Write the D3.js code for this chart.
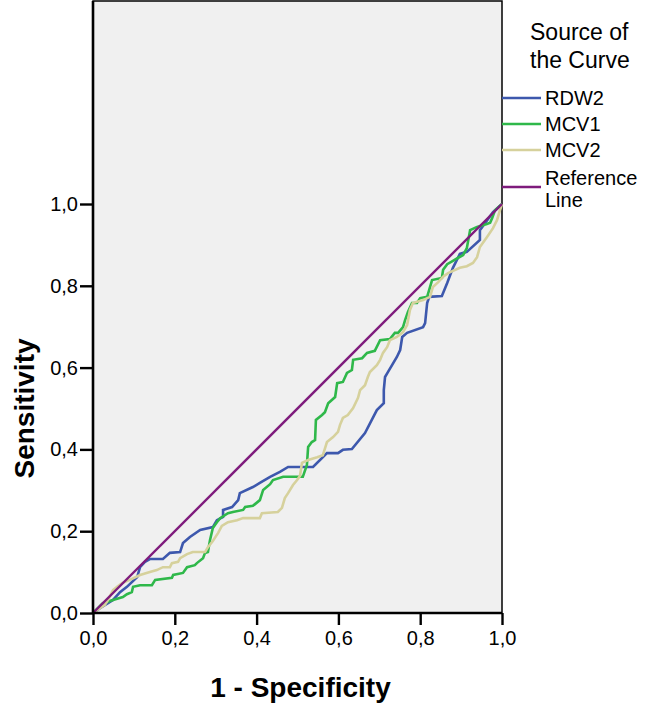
<!DOCTYPE html>
<html>
<head>
<meta charset="utf-8">
<script src="https://cdn.jsdelivr.net/npm/d3@7"></script>
<style>
  body { margin: 0; background: #fff; }
  text { font-family: "Liberation Sans", Arial, sans-serif; fill: #000; }
  .tick-label { font-size: 20px; }
  .axis-label { font-size: 28px; font-weight: bold; }
  .legend-title { font-size: 23px; }
  .legend-text { font-size: 20px; }
</style>
</head>
<body>
<div id="roc"></div>
<script>
// 1: DATA, [1 - specificity, sensitivity]
const seriesNames = ["RDW2", "MCV1", "MCV2"];
const seriesColors = ["#3d58ad", "#2fb84a", "#d6d19c"];
const refName = ["Reference", "Line"];
const refColor = "#7e1b7c";
const ticks = [0, 0.2, 0.4, 0.6, 0.8, 1.0];

const rdw2 = [
  [0,0],[0.017,0.012],[0.049,0.032],[0.066,0.051],[0.083,0.064],[0.108,0.088],
  [0.115,0.112],[0.127,0.125],[0.139,0.132],[0.171,0.132],[0.188,0.147],[0.213,0.149],
  [0.220,0.171],[0.237,0.186],[0.262,0.203],[0.293,0.210],[0.303,0.227],[0.318,0.235],
  [0.318,0.252],[0.340,0.259],[0.355,0.276],[0.359,0.293],[0.391,0.308],[0.408,0.318],
  [0.433,0.333],[0.457,0.345],[0.477,0.357],[0.538,0.357],[0.572,0.391],[0.599,0.391],
  [0.611,0.399],[0.633,0.401],[0.665,0.440],[0.694,0.496],[0.711,0.513],[0.711,0.545],
  [0.714,0.577],[0.721,0.589],[0.743,0.626],[0.751,0.643],[0.756,0.675],[0.768,0.685],
  [0.807,0.699],[0.812,0.709],[0.817,0.758],[0.822,0.773],[0.853,0.775],[0.866,0.807],
  [0.880,0.844],[0.897,0.878],[0.914,0.883],[0.946,0.912],[0.946,0.936],[0.978,0.980],
  [1,1]
];
const mcv1 = [
  [0,0],[0.024,0.024],[0.049,0.032],[0.073,0.039],[0.083,0.046],[0.095,0.051],
  [0.098,0.064],[0.115,0.068],[0.144,0.068],[0.152,0.081],[0.193,0.086],[0.196,0.093],
  [0.220,0.098],[0.230,0.112],[0.249,0.117],[0.254,0.122],[0.269,0.134],[0.274,0.147],
  [0.281,0.149],[0.286,0.178],[0.293,0.208],[0.303,0.222],[0.311,0.232],[0.330,0.244],
  [0.342,0.247],[0.367,0.252],[0.372,0.259],[0.391,0.262],[0.408,0.276],[0.416,0.301],
  [0.433,0.315],[0.440,0.325],[0.465,0.333],[0.513,0.333],[0.523,0.362],[0.526,0.406],
  [0.535,0.418],[0.543,0.423],[0.545,0.472],[0.560,0.484],[0.567,0.491],[0.575,0.513],
  [0.592,0.528],[0.597,0.562],[0.611,0.565],[0.621,0.587],[0.633,0.594],[0.636,0.619],
  [0.658,0.623],[0.670,0.636],[0.689,0.641],[0.702,0.667],[0.726,0.670],[0.738,0.685],
  [0.746,0.685],[0.758,0.699],[0.763,0.716],[0.770,0.736],[0.780,0.758],[0.792,0.758],
  [0.800,0.770],[0.817,0.773],[0.829,0.814],[0.853,0.819],[0.856,0.839],[0.866,0.853],
  [0.880,0.861],[0.892,0.868],[0.905,0.875],[0.914,0.892],[0.922,0.936],[0.939,0.944],
  [0.963,0.951],[0.971,0.954],[0.976,0.966],[0.983,0.985],[1,1]
];
const mcv2 = [
  [0,0],[0.029,0.020],[0.037,0.032],[0.049,0.056],[0.059,0.064],[0.071,0.073],
  [0.090,0.081],[0.115,0.093],[0.139,0.100],[0.156,0.105],[0.171,0.112],[0.188,0.112],
  [0.193,0.122],[0.208,0.125],[0.213,0.134],[0.230,0.144],[0.244,0.149],[0.274,0.149],
  [0.281,0.161],[0.293,0.176],[0.306,0.196],[0.315,0.213],[0.330,0.222],[0.352,0.227],
  [0.367,0.232],[0.408,0.232],[0.413,0.244],[0.452,0.247],[0.462,0.257],[0.469,0.281],
  [0.477,0.293],[0.489,0.313],[0.499,0.325],[0.506,0.335],[0.511,0.367],[0.526,0.374],
  [0.548,0.381],[0.562,0.386],[0.572,0.418],[0.587,0.430],[0.599,0.443],[0.604,0.460],
  [0.611,0.477],[0.623,0.484],[0.636,0.501],[0.648,0.526],[0.653,0.545],[0.665,0.557],
  [0.672,0.577],[0.677,0.589],[0.694,0.606],[0.702,0.619],[0.709,0.636],[0.719,0.650],
  [0.726,0.667],[0.743,0.675],[0.758,0.687],[0.768,0.704],[0.775,0.741],[0.782,0.758],
  [0.807,0.765],[0.824,0.773],[0.831,0.797],[0.844,0.809],[0.856,0.822],[0.868,0.831],
  [0.897,0.844],[0.914,0.848],[0.929,0.856],[0.939,0.870],[0.946,0.895],[0.963,0.919],
  [0.978,0.941],[0.988,0.961],[0.995,0.985],[1,1]
];
const refLine = [[0,0],[1,1]];

// 2: SVG + SCALES
const W = 649, H = 710;
const svg = d3.select("#roc").append("svg")
    .attr("width", W)
    .attr("height", H);

const x = d3.scaleLinear().domain([0, 1]).range([93, 502]);
const y = d3.scaleLinear().domain([0, 1]).range([613, 204]);
const plotTop = 1;

// plot background
svg.append("rect")
    .attr("x", x(0))
    .attr("y", plotTop)
    .attr("width", x(1) - x(0))
    .attr("height", y(0) - plotTop)
    .attr("fill", "#f0f0f0")
    .attr("stroke", "#000")
    .attr("stroke-width", 1.5);

// 3: CURVES
const line = d3.line().x(d => x(d[0])).y(d => y(d[1]));
const curves = [rdw2, mcv1, mcv2];

svg.append("g").selectAll("path")
    .data(curves)
    .enter()
    .append("path")
    .attr("d", d => line(d))
    .attr("fill", "none")
    .attr("stroke", (d, i) => seriesColors[i])
    .attr("stroke-width", 2.6)
    .attr("stroke-linejoin", "miter");

svg.append("path")
    .attr("d", line(refLine))
    .attr("fill", "none")
    .attr("stroke", refColor)
    .attr("stroke-width", 2.4);

// 4: AXES
const commaFmt = d => d3.format(".1f")(d).replace(".", ",");
const xAxis = svg.append("g")
    .attr("transform", `translate(0,${y(0)})`)
    .call(d3.axisBottom(x).tickValues(ticks).tickSize(12).tickPadding(6).tickFormat(commaFmt));
const yAxis = svg.append("g")
    .attr("transform", `translate(${x(0)},0)`)
    .call(d3.axisLeft(y).tickValues(ticks).tickSize(13).tickPadding(2).tickFormat(commaFmt));

[xAxis, yAxis].forEach(a => {
    a.select(".domain").remove();
    a.selectAll(".tick line").attr("stroke", "#000").attr("stroke-width", 2.4);
    a.selectAll(".tick text").attr("class", "tick-label").attr("font-size", null).attr("font-family", null);
});

// axis lines drawn on top
svg.append("line")
    .attr("x1", x(0)).attr("x2", x(1))
    .attr("y1", y(0)).attr("y2", y(0))
    .attr("stroke", "#000").attr("stroke-width", 2.6);
svg.append("line")
    .attr("x1", x(0)).attr("x2", x(0))
    .attr("y1", plotTop).attr("y2", y(0) + 1)
    .attr("stroke", "#000").attr("stroke-width", 2.6);

// 5: LABELS
svg.append("text")
    .attr("class", "axis-label")
    .attr("x", (x(0) + x(1)) / 2 + 3)
    .attr("y", 697)
    .attr("text-anchor", "middle")
    .text("1 - Specificity");

svg.append("text")
    .attr("class", "axis-label")
    .attr("transform", `translate(34,${(y(0) + y(1)) / 2}) rotate(-90)`)
    .attr("text-anchor", "middle")
    .text("Sensitivity");

// 6: LEGEND
const legend = svg.append("g");
legend.append("text")
    .attr("class", "legend-title")
    .selectAll("tspan")
    .data(["Source of", "the Curve"])
    .enter()
    .append("tspan")
    .attr("x", 530)
    .attr("y", (d, i) => 40 + i * 28)
    .text(d => d);

const legendItems = seriesNames.map((n, i) => ({ label: [n], color: seriesColors[i] }))
    .concat([{ label: refName, color: refColor }]);
const legendY = [98, 124, 150, 178];

legendItems.forEach((it, i) => {
    const ly = legendY[i] + (it.label.length > 1 ? 9 : 0);
    legend.append("line")
        .attr("x1", x(1)).attr("x2", 541)
        .attr("y1", ly).attr("y2", ly)
        .attr("stroke", it.color)
        .attr("stroke-width", 2.6);
    legend.append("text")
        .attr("class", "legend-text")
        .selectAll("tspan")
        .data(it.label)
        .enter()
        .append("tspan")
        .attr("x", 545)
        .attr("y", (d, j) => legendY[i] + 7 + j * 22)
        .text(d => d);
});
</script>
</body>
</html>
